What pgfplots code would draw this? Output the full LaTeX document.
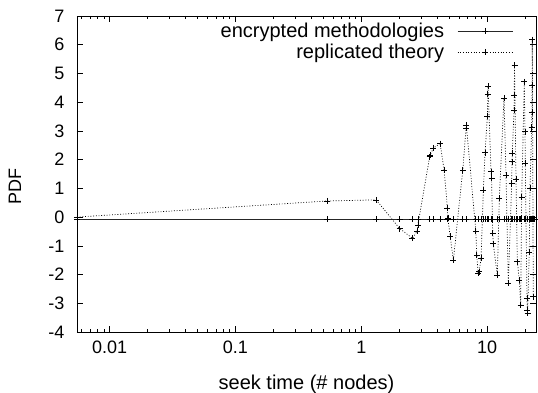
\documentclass[border=0pt]{standalone}
\usepackage{fontspec}
\setmainfont{Liberation Sans}
\usepackage{pgfplots}
\pgfplotsset{compat=1.18}
\pgfplotstableread{
x y
0.0055 0.0
0.534 0.56
1.315 0.60
2.021 -0.40
2.554 -0.74
2.783 -0.49
2.818 -0.28
3.498 2.10
3.529 2.16
3.749 2.41
4.236 2.56
4.558 1.64
4.841 0.30
4.876 -0.03
5.086 -0.66
5.401 -1.50
6.414 1.64
6.813 3.09
6.851 3.21
8.135 -0.48
8.286 -1.32
8.485 -1.94
8.641 -1.90
8.963 -1.44
9.346 0.94
9.641 2.24
10.06 3.52
10.13 4.27
10.18 4.56
10.76 1.58
10.86 1.35
11.10 -0.55
11.20 -0.92
12.07 -2.02
12.52 0.65
13.64 4.15
14.15 1.46
14.76 -2.31
15.70 1.18
15.79 1.93
15.87 2.23
16.38 3.72
16.44 4.25
16.53 5.29
16.99 1.32
17.40 -1.55
18.05 -2.19
18.51 -3.06
18.86 0.70
19.77 4.71
20.03 2.97
20.14 1.87
20.77 -2.81
20.89 -3.24
21.00 -3.35
21.66 -1.21
21.94 1.00
22.63 3.14
22.71 3.66
22.80 4.59
22.88 6.18
23.31 -2.77
}\replicated
\pgfplotstableread{
x y
0.0055 -0.08
0.534 -0.08
1.315 -0.08
2.021 -0.08
2.554 -0.08
2.818 -0.08
3.498 -0.08
3.749 -0.08
4.236 -0.08
4.841 -0.08
5.401 -0.08
6.414 -0.08
6.851 -0.08
8.135 -0.08
8.485 -0.08
8.963 -0.08
9.346 -0.08
9.641 -0.08
10.06 -0.08
10.18 -0.08
10.76 -0.08
11.10 -0.08
12.07 -0.08
12.52 -0.08
13.64 -0.08
14.15 -0.08
14.76 -0.08
15.70 -0.08
15.87 -0.08
16.38 -0.08
16.99 -0.08
17.40 -0.08
18.05 -0.08
18.51 -0.08
18.86 -0.08
19.77 -0.08
20.14 -0.08
20.77 -0.08
21.00 -0.08
21.66 -0.08
21.94 -0.08
22.63 -0.08
22.88 -0.08
23.31 -0.08
23.90 -0.08
26.00 -0.08
}\encrypted
\begin{document}
\begin{tikzpicture}
\useasboundingbox (-77pt,-61pt) rectangle (461pt,332pt);
\begin{axis}[
  scale only axis, width=459pt, height=316pt,
  xmode=log, xmin=0.0055, xmax=24.5, ymin=-4, ymax=7,
  ytick={-4,-3,-2,-1,0,1,2,3,4,5,6,7},
  xtick={0.01,0.1,1,10}, xticklabels={0.01,0.1,1,10},
  minor xtick={0.006,0.007,0.008,0.009,0.02,0.03,0.04,0.05,0.06,0.07,0.08,0.09,0.2,0.3,0.4,0.5,0.6,0.7,0.8,0.9,2,3,4,5,6,7,8,9,20},
  tick align=inside, major tick length=6pt, minor tick length=3pt,
  axis line style={line width=0.9pt},
  every tick/.style={black, line width=0.6pt},
  /pgf/number format/assume math mode=true,
  ticklabel style={font=\fontsize{18}{18}\selectfont},
  yticklabel style={xshift=-9pt},
  xticklabel style={yshift=-5.5pt},
  xlabel={seek time (\# nodes)},
  ylabel={PDF},
  xlabel style={font=\fontsize{20}{20}\selectfont, at={(axis description cs:0.5,-0.166)}, anchor=center},
  ylabel style={font=\fontsize{18}{18}\selectfont, at={(axis description cs:-0.135,0.459)}, anchor=center},
  legend plot pos=right,
  legend cell align=right,
  legend style={draw=none, fill=none, font=\fontsize{20}{20}\selectfont,
    at={(rel axis cs:0.95,0.985)}, anchor=north east, inner sep=0pt,
    row sep=1pt, nodes={inner sep=2pt}},
  legend image code/.code={\path (0pt,0pt); \draw[#1, mark repeat=2, mark phase=2] plot coordinates {(11pt,0pt) (38.5pt,0pt) (66pt,0pt)};},
]
\addplot[black!85, line width=0.7pt, mark=+, mark size=3pt, mark options={solid, black, line width=0.6pt}] table[x=x,y=y] {\encrypted};
\addlegendentry{encrypted methodologies}
\addplot[black, line width=0.7pt, dash pattern=on 0.9pt off 1.8pt, mark=+, mark size=3pt, mark options={solid, black, line width=0.6pt}] table[x=x,y=y] {\replicated};
\addlegendentry{replicated theory}
\end{axis}
\end{tikzpicture}
\end{document}
